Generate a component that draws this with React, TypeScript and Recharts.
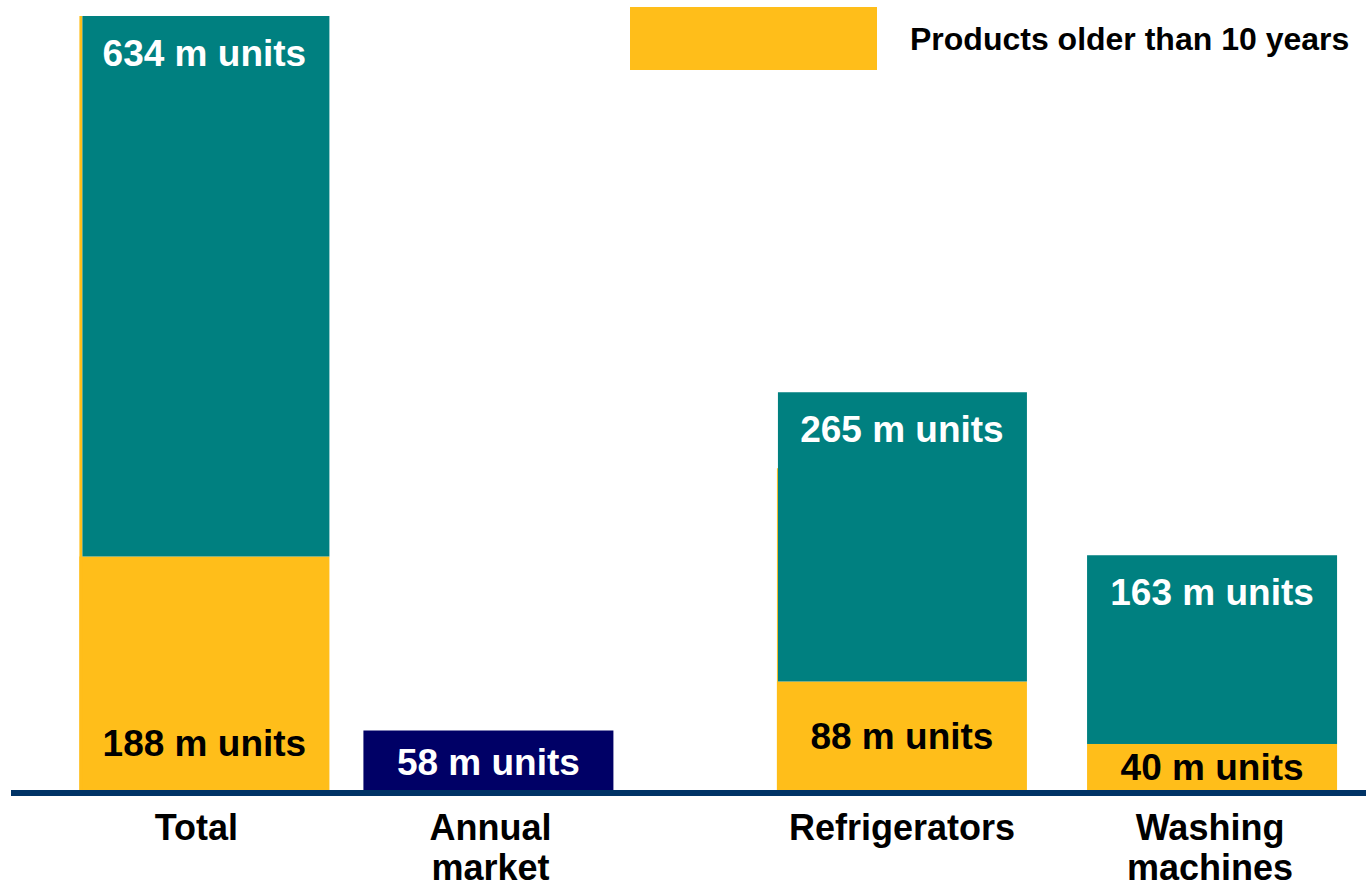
import React from "react";
import {
  BarChart,
  Bar,
  XAxis,
  YAxis,
  Legend,
  LabelList,
  ReferenceLine,
} from "recharts";

// ── Data ─────────────────────────────────────────────────────────────────────

const categories = ["Total", "Annual market", "Refrigerators", "Washing machines"];
// horizontal slot of each group (the gap before Refrigerators is wider)
const slots = [0, 1, 2.456, 3.548];

// bar heights as drawn (m units)
const olderDrawn = [193, 0, 91, 40];
const restDrawn = [441, 0, 236, 154];
const marketDrawn = [0, 51, 0, 0];
// bar that shows behind the overlay on the left edge
const underlay = [634, 0, 265, 0];

// printed labels
const totalLabels = [634, 58, 265, 163];
const olderLabels = [188, null, 88, 40];

const data = categories.map((name, i) => ({
  name,
  slot: slots[i],
  older: olderDrawn[i],
  rest: restDrawn[i],
  market: marketDrawn[i],
  underlay: underlay[i],
  totalLabel: totalLabels[i],
  olderLabel: olderLabels[i],
}));

const TEAL = "#008080";
const YELLOW = "#FFBE1A";
const NAVY = "#000066";
const LINE = "#003366";
const FONT = "'Liberation Sans', Arial, sans-serif";
const STRIP = [3, 0, 1, 0];
const TICK_DX = [-8, 2, 0, -2];

// ── Shapes & labels ──────────────────────────────────────────────────────────

function OlderShape(props: any) {
  const { x, y, width, height, payload, index } = props;
  if (!height || height <= 0) return null;
  const bottom = y + height;
  const perUnit = height / payload.older;
  const sw = STRIP[index] || 0;
  return (
    <g>
      <rect x={x} y={y} width={width} height={height} fill={YELLOW} />
      {sw > 0 && payload.underlay > 0 && (
        <rect
          x={x}
          y={bottom - payload.underlay * perUnit}
          width={sw}
          height={payload.underlay * perUnit}
          fill={YELLOW}
        />
      )}
    </g>
  );
}

function RestShape(props: any) {
  const { x, y, width, height, index } = props;
  if (!height || height <= 0) return null;
  const sw = STRIP[index] || 0;
  return <rect x={x + sw} y={y} width={width - sw} height={height} fill={TEAL} />;
}

const labelText = (v: number, fill: string, cx: number, capCenter: number) => (
  <text
    x={cx}
    y={capCenter + 13}
    textAnchor="middle"
    fill={fill}
    fontFamily={FONT}
    fontWeight="bold"
    fontSize={37}
  >
    {`${v} m units`}
  </text>
);

const renderTopLabel = (props: any) => {
  const { x, y, width, height, value } = props;
  if (value == null || !height) return null;
  return labelText(value, "#ffffff", x + width / 2, y + 37);
};

const renderOlderLabel = (props: any) => {
  const { x, y, width, height, value } = props;
  if (value == null || !height) return null;
  const bottom = y + height;
  const cy = height > 150 ? bottom - 50 : y + height / 2 - 1;
  return labelText(value, "#000000", x + width / 2, cy);
};

const renderMarketLabel = (props: any) => {
  const { x, y, width, height, value } = props;
  if (value == null || !height) return null;
  return labelText(value, "#ffffff", x + width / 2, y + height / 2);
};

const renderTick = (props: any) => {
  const { x, y, payload } = props;
  const idx = slots.indexOf(payload.value);
  const lines = (categories[idx] || "").split(" ");
  const tx = x + (TICK_DX[idx] || 0);
  return (
    <text
      x={tx}
      y={y + 47}
      textAnchor="middle"
      fill="#000000"
      fontFamily={FONT}
      fontWeight="bold"
      fontSize={36}
    >
      {lines.map((l, i) => (
        <tspan key={i} x={tx} dy={i === 0 ? 0 : 40}>
          {l}
        </tspan>
      ))}
    </text>
  );
};

const renderLegend = () => (
  <div style={{ display: "flex", alignItems: "center" }}>
    <div style={{ width: 247, height: 63, background: YELLOW }} />
    <span
      style={{
        marginLeft: 33,
        fontFamily: FONT,
        fontWeight: "bold",
        fontSize: 32,
        color: "#000000",
        whiteSpace: "nowrap",
        position: "relative",
        top: 1,
      }}
    >
      Products older than 10 years
    </span>
  </div>
);

// ── Chart ────────────────────────────────────────────────────────────────────

export default function App() {
  return (
    <div style={{ position: "absolute", left: 0, top: 0, width: 1366, height: 888, background: "#fff" }}>
      <BarChart
        width={1366}
        height={888}
        data={data}
        margin={{ top: 16, right: 0, left: 11, bottom: 0 }}
      >
        <XAxis
          dataKey="slot"
          type="number"
          domain={[-0.681, 4.09]}
          ticks={slots}
          interval={0}
          height={95}
          axisLine={false}
          tickLine={false}
          tickSize={0}
          tickMargin={0}
          tick={renderTick}
          allowDataOverflow
        />
        <YAxis hide type="number" domain={[0, 634]} allowDataOverflow />
        <Legend
          layout="horizontal"
          verticalAlign="middle"
          align="center"
          content={renderLegend}
          wrapperStyle={{ top: 7, left: 630, bottom: "auto", width: "auto" }}
        />
        <Bar dataKey="older" stackId="a" barSize={250} fill={YELLOW} shape={OlderShape} isAnimationActive={false}>
          <LabelList dataKey="olderLabel" content={renderOlderLabel} />
        </Bar>
        <Bar dataKey="rest" stackId="a" barSize={250} fill={TEAL} shape={RestShape} isAnimationActive={false}>
          <LabelList dataKey="totalLabel" content={renderTopLabel} />
        </Bar>
        <Bar dataKey="market" stackId="a" barSize={250} fill={NAVY} isAnimationActive={false}>
          <LabelList dataKey="totalLabel" content={renderMarketLabel} />
        </Bar>
        <ReferenceLine y={0} stroke={LINE} strokeWidth={6} ifOverflow="extendDomain" />
      </BarChart>
    </div>
  );
}
